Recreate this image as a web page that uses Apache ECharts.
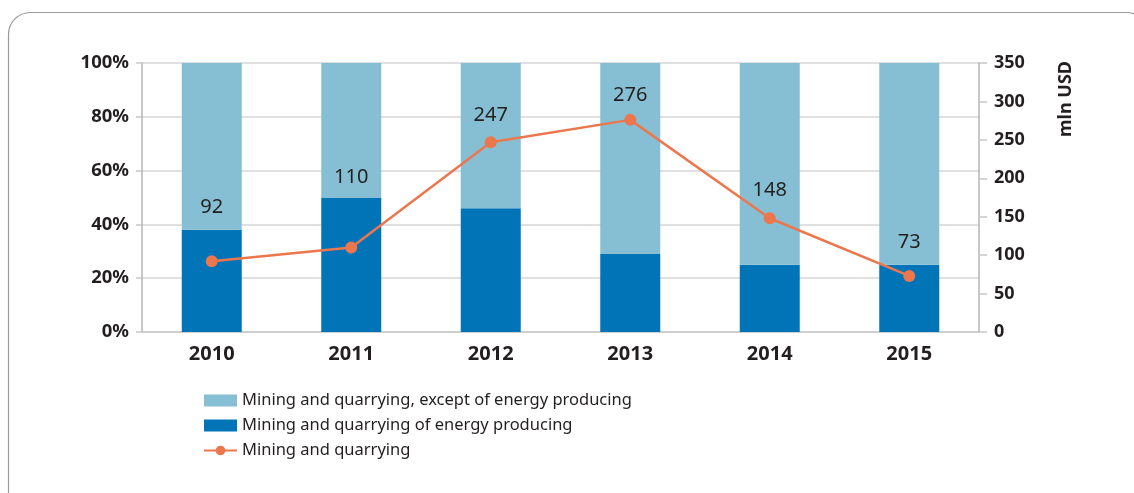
<!DOCTYPE html>
<html>
<head>
<meta charset="utf-8">
<script src="https://cdn.jsdelivr.net/npm/echarts@6/dist/echarts.min.js"></script>
<style>
  html, body { margin: 0; padding: 0; background: #fff; }
  #chart { width: 1134px; height: 493px; }
</style>
</head>
<body>
<div id="chart"></div>
<script>
const years = ['2010', '2011', '2012', '2013', '2014', '2015']
// shares in %
const exceptEnergyPct = [62, 50, 54, 71, 75, 75]
const energyPct = [38, 50, 46, 29, 25, 25]
// mln USD
const totalMln = [92, 110, 247, 276, 148, 73]

const pctTicks = [0, 20, 40, 60, 80, 100]
const mlnTicks = [0, 50, 100, 150, 200, 250, 300, 350]

// label distances above the points, as placed in the original
const labelGap = [38, 54, 11, 9, 12, 18]

const textColor = '#231f20'
const font = 'Noto Sans'

const chart = echarts.init(document.getElementById('chart'))

const option = {
  animation: false,
  color: ['#86bfd3', '#0074b7', '#ec774d'],
  textStyle: {fontFamily: font},
  grid: {left: 142, right: 155, top: 63, bottom: 161},
  legend: {
    orient: 'vertical',
    left: 198,
    top: 387,
    itemGap: 8,
    itemWidth: 33,
    itemHeight: 12,
    data: [
      {name: 'Mining and quarrying, except of energy producing', icon: 'rect'},
      {name: 'Mining and quarrying of energy producing', icon: 'rect'},
      {name: 'Mining and quarrying'}
    ],
    textStyle: {fontSize: 16.5, color: textColor, fontFamily: font}
  },
  xAxis: {
    type: 'category',
    data: years,
    axisLine: {show: true, lineStyle: {color: '#c8c8c8', width: 1.5}},
    axisTick: {show: false},
    axisLabel: {fontSize: 20, fontWeight: 'bold', color: textColor, margin: 12, fontFamily: font}
  },
  yAxis: [
    {
      type: 'value',
      min: pctTicks[0],
      max: pctTicks[pctTicks.length - 1],
      interval: 20,
      axisLine: {show: true, lineStyle: {color: '#b5b5b5', width: 1.5}},
      axisTick: {show: true, length: 6, lineStyle: {color: '#c8c8c8', width: 1.5}},
      axisLabel: {formatter: '{value}%', fontSize: 18.5, fontWeight: 'bold', color: textColor, margin: 13, fontFamily: font},
      splitLine: {show: true, lineStyle: {color: '#d6d6d6', width: 1.5}}
    },
    {
      type: 'value',
      position: 'right',
      min: mlnTicks[0],
      max: mlnTicks[mlnTicks.length - 1],
      interval: 50,
      axisLine: {show: true, lineStyle: {color: '#b5b5b5', width: 1.5}},
      axisTick: {show: true, length: 8, lineStyle: {color: '#c8c8c8', width: 1.5}},
      axisLabel: {fontSize: 18, fontWeight: 'bold', color: textColor, margin: 15, fontFamily: font},
      splitLine: {show: false}
    }
  ],
  graphic: [
    {
      type: 'rect',
      shape: {x: 8.5, y: 12.5, width: 1140, height: 520, r: 22},
      style: {fill: 'none', stroke: '#9a9a9a', lineWidth: 1.2},
      silent: true,
      z: -1
    },
    {
      type: 'text',
      x: 1066,
      y: 99,
      rotation: Math.PI / 2,
      style: {
        text: 'mln USD',
        fontSize: 18,
        fontWeight: 'bold',
        fill: textColor,
        fontFamily: font,
        align: 'center',
        verticalAlign: 'middle'
      }
    }
  ],
  series: [
    {
      name: 'Mining and quarrying of energy producing',
      type: 'bar',
      stack: 'share',
      barWidth: 60,
      data: energyPct,
      itemStyle: {color: '#0074b7'},
      z: 2
    },
    {
      name: 'Mining and quarrying, except of energy producing',
      type: 'bar',
      stack: 'share',
      barWidth: 60,
      data: exceptEnergyPct,
      itemStyle: {color: '#86bfd3'},
      z: 2
    },
    {
      name: 'Mining and quarrying',
      type: 'line',
      yAxisIndex: 1,
      symbol: 'circle',
      symbolSize: 12,
      lineStyle: {color: '#ec774d', width: 2.5},
      itemStyle: {color: '#ec774d'},
      z: 5,
      data: totalMln.map((v, i) => ({
        value: v,
        label: {distance: labelGap[i]}
      })),
      label: {
        show: true,
        position: 'top',
        fontSize: 20,
        color: textColor,
        fontFamily: font
      }
    }
  ]
}

chart.setOption(option)
</script>
</body>
</html>
